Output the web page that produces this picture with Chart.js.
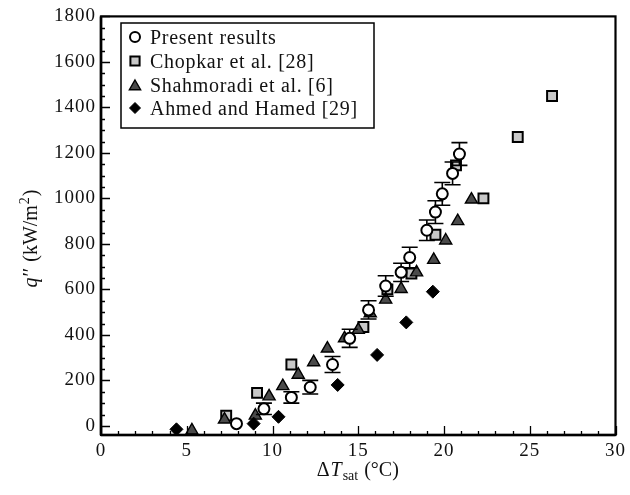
<!DOCTYPE html>
<html><head><meta charset="utf-8">
<script src="https://cdn.jsdelivr.net/npm/chart.js@4.4.1/dist/chart.umd.min.js"></script>
<style>html,body{margin:0;padding:0;background:#fff}#wrap{width:630px;height:495px}</style>
</head><body><div id="wrap"><canvas id="c" width="630" height="495"></canvas></div>
<script>
// ---- data ----
const seriesNames = ['Present results', 'Chopkar et al. [28]', 'Shahmoradi et al. [6]', 'Ahmed and Hamed [29]'];
const presentX   = [7.9, 9.5, 11.1, 12.2, 13.5, 14.5, 15.6, 16.6, 17.5, 18.0, 19.0, 19.5, 19.9, 20.5, 20.9];
const presentY   = [10, 75, 125, 170, 270, 385, 510, 615, 675, 740, 860, 940, 1020, 1110, 1195];
const presentErr = [0, 25, 25, 30, 35, 40, 40, 45, 40, 45, 45, 50, 50, 50, 50];
const chopkarX   = [7.3, 9.1, 11.1, 15.3, 16.7, 18.1, 19.5, 20.7, 22.3, 24.3, 26.3];
const chopkarY   = [45, 145, 270, 435, 600, 670, 840, 1145, 1000, 1270, 1450];
const shahX      = [5.3, 7.2, 9.0, 9.8, 10.6, 11.5, 12.4, 13.2, 14.2, 15.0, 15.7, 16.6, 17.5, 18.4, 19.4, 20.1, 20.8, 21.6];
const shahY      = [-20, 28, 45, 130, 175, 225, 280, 340, 385, 422, 495, 555, 602, 675, 730, 815, 900, 995];
const ahmedX     = [4.4, 8.9, 10.35, 13.8, 16.1, 17.8, 19.35];
const ahmedY     = [-15, 10, 40, 180, 312, 455, 590];
const xTickVals  = [0, 5, 10, 15, 20, 25, 30];
const yTickVals  = [0, 200, 400, 600, 800, 1000, 1200, 1400, 1600, 1800];
const xTitleParts = ['\u0394', 'T', 'sat', ' (\u00B0C)'];
const yTitleParts = ['q', '\u2032\u2032', ' (kW/m', '2', ')'];

const FONT = '"Liberation Serif", "Times New Roman", serif';
const pts = (xs, ys) => xs.map((x, i) => ({x, y: ys[i]}));

const styles = [
  {pointStyle: 'circle',   radius: 5.5, bg: '#ffffff', border: '#000000', bw: 2},
  {pointStyle: 'rect',     radius: 7,   bg: '#c8c8c8', border: '#000000', bw: 2},
  {pointStyle: 'triangle', radius: 7,   bg: '#4a4a4a', border: '#000000', bw: 1.4},
  {pointStyle: 'rectRot',  radius: 6.5, bg: '#000000', border: '#000000', bw: 1}
];
const dataSets = [pts(presentX, presentY), pts(chopkarX, chopkarY), pts(shahX, shahY), pts(ahmedX, ahmedY)];
const orders = [0, 3, 2, 1];

function marker(ctx, st, x, y, r) {
  ctx.save();
  ctx.fillStyle = st.bg; ctx.strokeStyle = st.border; ctx.lineWidth = st.bw;
  ctx.beginPath();
  if (st.pointStyle === 'circle') ctx.arc(x, y, r, 0, Math.PI * 2);
  else if (st.pointStyle === 'rect') { const s = r * Math.SQRT1_2; ctx.rect(x - s, y - s, 2 * s, 2 * s); }
  else if (st.pointStyle === 'triangle') {
    ctx.moveTo(x, y - r); ctx.lineTo(x + r * Math.sin(2 * Math.PI / 3), y + r / 2); ctx.lineTo(x - r * Math.sin(2 * Math.PI / 3), y + r / 2); ctx.closePath();
  } else { ctx.moveTo(x, y - r); ctx.lineTo(x + r, y); ctx.lineTo(x, y + r); ctx.lineTo(x - r, y); ctx.closePath(); }
  ctx.fill(); ctx.stroke();
  ctx.restore();
}

const framePlugin = {
  id: 'frame',
  beforeDraw(chart) { chart.ctx.letterSpacing = '1px'; },
  beforeDatasetDraw(chart, args) {
    if (args.index !== 0) return;
    const ctx = chart.ctx, xs = chart.scales.x, ys = chart.scales.y;
    ctx.save(); ctx.strokeStyle = '#000'; ctx.lineWidth = 1.6;
    presentX.forEach((x, i) => {
      const e = presentErr[i]; if (!e) return;
      const px = xs.getPixelForValue(x);
      const y1 = ys.getPixelForValue(presentY[i] + e), y2 = ys.getPixelForValue(presentY[i] - e);
      ctx.beginPath();
      ctx.moveTo(px, y1); ctx.lineTo(px, y2);
      ctx.moveTo(px - 8, y1); ctx.lineTo(px + 8, y1);
      ctx.moveTo(px - 8, y2); ctx.lineTo(px + 8, y2);
      ctx.stroke();
    });
    ctx.restore();
  },
  afterDraw(chart) {
    const ctx = chart.ctx, a = chart.chartArea, xs = chart.scales.x, ys = chart.scales.y;
    ctx.save();
    ctx.letterSpacing = '0px';
    // ticks (inward)
    ctx.strokeStyle = '#000'; ctx.lineWidth = 1.3;
    ctx.beginPath();
    for (let v = 0; v <= 30; v += 1) {
      const px = Math.round(xs.getPixelForValue(v)) + 0.5;
      const L = v % 5 === 0 ? 9 : 4;
      ctx.moveTo(px, a.bottom); ctx.lineTo(px, a.bottom - L);
    }
    for (let v = 0; v <= 1800; v += 50) {
      const py = Math.round(ys.getPixelForValue(v)) + 0.5;
      const L = v % 200 === 0 ? 9 : 4;
      ctx.moveTo(a.left, py); ctx.lineTo(a.left + L, py);
    }
    ctx.stroke();
    ctx.lineWidth = 2.2;
    ctx.strokeRect(a.left, a.top, a.right - a.left, a.bottom - a.top);
    ctx.lineWidth = 2.6;
    ctx.beginPath(); ctx.moveTo(a.left, a.bottom); ctx.lineTo(a.right, a.bottom); ctx.moveTo(a.left, a.top); ctx.lineTo(a.left, a.bottom); ctx.stroke();

    // legend
    const lx = 121, ly = 23, lw = 253, lh = 105;
    ctx.fillStyle = '#fff'; ctx.fillRect(lx, ly, lw, lh);
    ctx.lineWidth = 1.5; ctx.strokeStyle = '#000'; ctx.strokeRect(lx, ly, lw, lh);
    const rows = [37, 61, 85, 108];
    const lr = [5, 6.5, 6.5, 5.5];
    ctx.font = '20px ' + FONT; ctx.fillStyle = '#111'; ctx.textBaseline = 'alphabetic'; ctx.textAlign = 'left';
    ctx.letterSpacing = '0.7px';
    seriesNames.forEach((n, i) => {
      marker(ctx, styles[i], 135, rows[i] + (i === 2 ? 1.5 : 0), lr[i]);
      ctx.fillText(n, 150, rows[i] + 6.5);
    });
    ctx.letterSpacing = '0px';

    // x title
    const big = '20px ' + FONT, ital = 'italic 20px ' + FONT, small = '14px ' + FONT;
    const xp = [[xTitleParts[0], big, 0], [xTitleParts[1], ital, 0], [xTitleParts[2], small, 4], [xTitleParts[3], big, 0]];
    let w = 0; xp.forEach(p => { ctx.font = p[1]; w += ctx.measureText(p[0]).width + 1; });
    let cx = (a.left + a.right) / 2 - w / 2; const by = 476;
    xp.forEach(p => { ctx.font = p[1]; ctx.fillText(p[0], cx, by + p[2]); cx += ctx.measureText(p[0]).width + 1; });

    // y title
    ctx.translate(30, 238); ctx.rotate(-Math.PI / 2);
    const yp = [[yTitleParts[0], ital, 0], [yTitleParts[1], big, 0], [yTitleParts[2], big, 0], [yTitleParts[3], small, -8], [yTitleParts[4], big, 0]];
    w = 0; yp.forEach(p => { ctx.font = p[1]; w += ctx.measureText(p[0]).width + 1; });
    cx = -w / 2;
    yp.forEach(p => { ctx.font = p[1]; ctx.fillText(p[0], cx, 6.5 + p[2]); cx += ctx.measureText(p[0]).width + 1; });
    ctx.restore();
  }
};

new Chart(document.getElementById('c'), {
  type: 'scatter',
  data: {
    datasets: dataSets.map((d, i) => ({
      label: seriesNames[i], data: d, order: orders[i], showLine: false,
      pointStyle: styles[i].pointStyle, pointRadius: styles[i].radius, pointHoverRadius: styles[i].radius,
      backgroundColor: styles[i].bg, borderColor: styles[i].border, borderWidth: styles[i].bw
    }))
  },
  options: {
    responsive: false, animation: false, devicePixelRatio: 1,
    layout: {padding: {left: 0, right: 14, top: 16, bottom: 0}},
    plugins: {legend: {display: false}, tooltip: {enabled: false}},
    scales: {
      x: {
        type: 'linear', min: 0, max: 30,
        afterBuildTicks: s => { s.ticks = xTickVals.map(v => ({value: v})); },
        afterFit: s => { s.height = 60; },
        grid: {display: false, drawTicks: false}, border: {display: false},
        ticks: {padding: 5, color: '#111', font: {family: FONT, size: 19}, maxRotation: 0, callback: v => String(v)}
      },
      y: {
        type: 'linear', min: -40, max: 1800,
        afterBuildTicks: s => { s.ticks = yTickVals.map(v => ({value: v})); },
        afterFit: s => { s.width = 101; },
        grid: {display: false, drawTicks: false}, border: {display: false},
        ticks: {padding: 5, color: '#111', font: {family: FONT, size: 19}, callback: v => String(v)}
      }
    }
  },
  plugins: [framePlugin]
});
</script></body></html>
